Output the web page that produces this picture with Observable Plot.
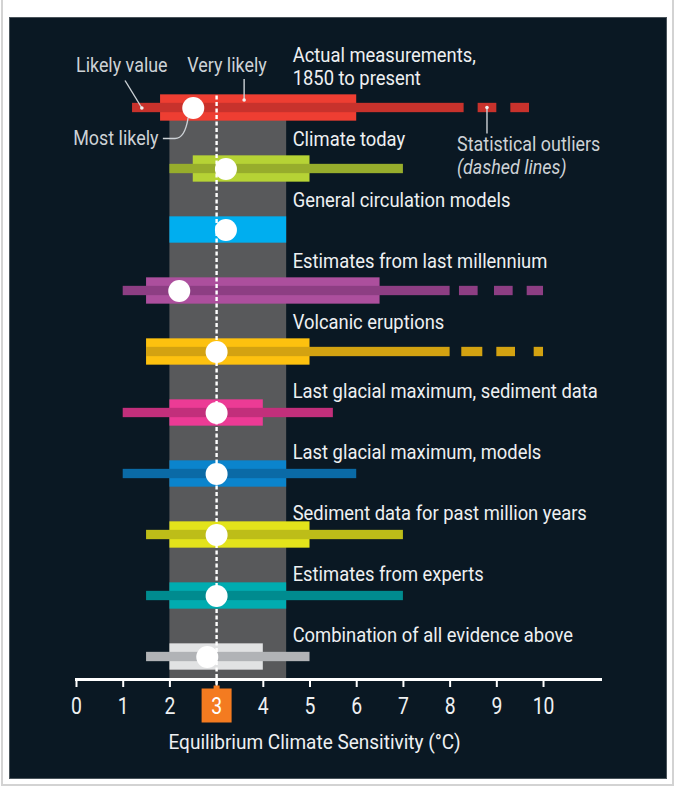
<!DOCTYPE html>
<html><head><meta charset="utf-8">
<script src="https://cdn.jsdelivr.net/npm/d3@7"></script>
<script src="https://cdn.jsdelivr.net/npm/@observablehq/plot@0.6"></script>
<style>
html,body{margin:0;padding:0;background:#fff;overflow:hidden;}
#frame{position:absolute;left:1px;top:-4px;width:673px;height:790px;border:2px solid #d3d3d3;box-sizing:border-box;}
#panel{position:absolute;left:9px;top:17px;width:658px;height:762px;background:#0a1823;box-shadow:inset 0 0 0 1px #4a545b;}
#panel svg{display:block;}
</style></head><body>
<div id="frame"></div>
<div id="panel"></div>
<script>
const categories = [
  "Actual measurements,\n1850 to present",
  "Climate today",
  "General circulation models",
  "Estimates from last millennium",
  "Volcanic eruptions",
  "Last glacial maximum, sediment data",
  "Last glacial maximum, models",
  "Sediment data for past million years",
  "Estimates from experts",
  "Combination of all evidence above"
];
// "Likely" range (thick bar)
const likelyLow  = [1.8, 2.5, 2.0, 1.5, 1.5, 2.0, 2.0, 2.0, 2.0, 2.0];
const likelyHigh = [6.0, 5.0, 4.5, 6.5, 5.0, 4.0, 4.5, 5.0, 4.5, 4.0];
// "Very likely" range (thin bar)
const veryLikelyLow  = [1.2, 2.0, null, 1.0, 1.5, 1.0, 1.0, 1.5, 1.5, 1.5];
const veryLikelyHigh = [8.3, 7.0, null, 8.0, 8.0, 5.5, 6.0, 7.0, 7.0, 5.0];
// "Most likely" value (dot)
const mostLikely = [2.5, 3.2, 3.2, 2.2, 3.0, 3.0, 3.0, 3.0, 3.0, 2.8];
// Statistical outliers (dashed segments)
const outlierRow  = [0, 0, 3, 3, 3, 4, 4, 4];
const outlierLow  = [8.6, 9.3, 8.2, 8.95, 9.65, 8.25, 9.0, 9.8];
const outlierHigh = [9.0, 9.7, 8.6, 9.35, 10.0, 8.7, 9.4, 10.0];
// Colours
const thickColors = ["#ee3e32","#b6d335","#00aeef","#ac4f9d","#fdc10f","#ec3b95","#0b84cc","#e3e31b","#00acb0","#e1e2e3"];
const thinColors  = ["#c8322c","#97ad2c","#00aeef","#8d3e83","#d3a211","#c22f7b","#0a6aa6","#bdbd18","#008b8f","#b1b3b6"];
// Axis
const xTicks = [0,1,2,3,4,5,6,7,8,9,10];
const highlightTick = 3;
const bandLow = 2, bandHigh = 4.5;
const axisTitle = "Equilibrium Climate Sensitivity (°C)";

const FONT = 'Roboto,"Liberation Sans",sans-serif';
const labelColor = "#eef0f2";
const noteColor = "#cdd2d6";
// font size -> horizontal condensing (narrow face of the original)
const condenseBySize = {"21": 0.875, "23": 0.84, "20": 0.95, "19.9": 0.9};

const rows = categories.map((c, i) => ({
  cat: c, lo: likelyLow[i], hi: likelyHigh[i],
  vlo: veryLikelyLow[i], vhi: veryLikelyHigh[i], ml: mostLikely[i],
  thick: thickColors[i], thin: thinColors[i]
}));
const outliers = outlierRow.map((r, i) => ({cat: categories[r], x1: outlierLow[i], x2: outlierHigh[i], thin: thinColors[r]}));

const boxSymbol = {
  draw(ctx) {
    ctx.moveTo(-15, -17); ctx.lineTo(-3, -17); ctx.lineTo(-3, -20); ctx.lineTo(3, -20);
    ctx.lineTo(3, -17); ctx.lineTo(15, -17); ctx.lineTo(15, 17); ctx.lineTo(-15, 17); ctx.closePath();
  }
};

const labelOpts = {x: () => bandHigh, y: "cat", text: "cat", dx: 6, lineAnchor: "bottom", textAnchor: "start", fill: labelColor, fontSize: 21, lineHeight: 1.1};
const step = 61.67;
const plot = Plot.plot({
  width: 658, height: 762,
  marginTop: 87.5, marginBottom: 100, marginLeft: 67, marginRight: 67,
  style: {background: "transparent", fontFamily: FONT, overflow: "visible"},
  x: {domain: [0, 11.22], axis: null},
  y: {type: "band", domain: categories, range: [87.5 - step/2, 642.5 + step/2], padding: 0, axis: null},
  color: {type: "identity"},
  marks: [
    Plot.rect([{lo: bandLow, hi: bandHigh}], {x1: "lo", x2: "hi", fill: "#58595b"}),
    Plot.barX(rows, {x1: "lo", x2: "hi", y: "cat", fill: "thick", insetTop: (step-27)/2, insetBottom: (step-27)/2}),
    Plot.barX(rows.filter(r => r.vlo != null), {x1: "vlo", x2: "vhi", y: "cat", fill: "thin", insetTop: (step-10)/2, insetBottom: (step-10)/2}),
    Plot.barX(outliers, {x1: "x1", x2: "x2", y: "cat", fill: "thin", insetTop: (step-10)/2, insetBottom: (step-10)/2}),
    Plot.ruleX([highlightTick], {x: d => d, stroke: "white", strokeWidth: 2.4, strokeDasharray: "4,2.5", insetTop: -9, insetBottom: -7}),
    Plot.dot(rows, {x: "ml", y: "cat", r: 11, fill: "white"}),
    Plot.text(rows.slice(0, 5), {...labelOpts, dy: -23}),
    Plot.text(rows.slice(5), {...labelOpts, dy: -15.5}),
    Plot.frame({anchor: "bottom", stroke: "white", strokeWidth: 3}),
    Plot.axisX({ticks: xTicks, tickSize: 8, tickFormat: () => "", stroke: "white", strokeWidth: 2, label: null}),
    Plot.dot([highlightTick], {x: d => d, frameAnchor: "bottom", dy: 26, symbol: boxSymbol, fill: "#f47b20", stroke: "none"}),
    Plot.text(xTicks, {x: d => d, frameAnchor: "bottom", dy: 27, lineAnchor: "middle", text: d => String(d), fill: d => d === highlightTick ? "#ffffff" : labelColor, fontSize: 23}),
    Plot.text([axisTitle], {frameAnchor: "bottom-left", dx: 92, dy: 63, lineAnchor: "middle", textAnchor: "start", fill: labelColor, fontSize: 20})
  ]
});
document.getElementById("panel").appendChild(plot);

// Annotations (legend key) placed through the plot's scales
const sx = plot.scale("x"), sy = plot.scale("y");
const X = v => sx.apply(v);
const Y0 = sy.apply(categories[0]) + sy.bandwidth / 2;
const g = d3.select(plot).append("g").attr("font-family", FONT).attr("font-size", 19.9).attr("fill", noteColor).attr("text-anchor", "start");
const note = (x, dy, txt, italic) => g.append("text").attr("x", X(x)).attr("y", Y0 + dy).attr("dy", "0.35em").attr("font-style", italic ? "italic" : null).text(txt);
note(0, -42, "Likely value");
note(2.38, -42, "Very likely");
note(-0.06, 30.5, "Most likely");
note(8.16, 36.5, "Statistical outliers");
note(8.16, 59.5, "(dashed lines)", true);
const ln = g.append("g").attr("stroke", noteColor).attr("stroke-width", 1.4).attr("fill", "none");
ln.append("line").attr("x1", X(1.05)).attr("y1", Y0 - 27).attr("x2", X(1.41)).attr("y2", Y0 + 0.5);
ln.append("line").attr("x1", X(3.6)).attr("y1", Y0 - 28.5).attr("x2", X(3.6)).attr("y2", Y0 - 7.5);
ln.append("path").attr("d", `M${X(1.86)},${Y0 + 31}H${X(2.12)}Q${X(2.33)},${Y0 + 31} ${X(2.4)},${Y0 + 10.5}`);
ln.append("line").attr("x1", X(8.8)).attr("y1", Y0).attr("x2", X(8.8)).attr("y2", Y0 + 26);
[[1.41, 0.5], [3.6, -7.5], [8.8, 0]].forEach(([x, dy]) => g.append("circle").attr("cx", X(x)).attr("cy", Y0 + dy).attr("r", 1.8).attr("fill", "#f0f0f0"));

// Condense type horizontally, keeping real text
plot.querySelectorAll("text").forEach(t => {
  const holder = t.closest("[font-size]");
  const k = holder ? (condenseBySize[holder.getAttribute("font-size")] || 0.88) : 0.88;
  const spans = t.querySelectorAll("tspan");
  (spans.length ? Array.from(spans) : [t]).forEach(el => {
    const w = el.getComputedTextLength();
    if (w > 0) { el.setAttribute("textLength", (w * k).toFixed(1)); el.setAttribute("lengthAdjust", "spacingAndGlyphs"); }
  });
});
</script>
</body></html>
